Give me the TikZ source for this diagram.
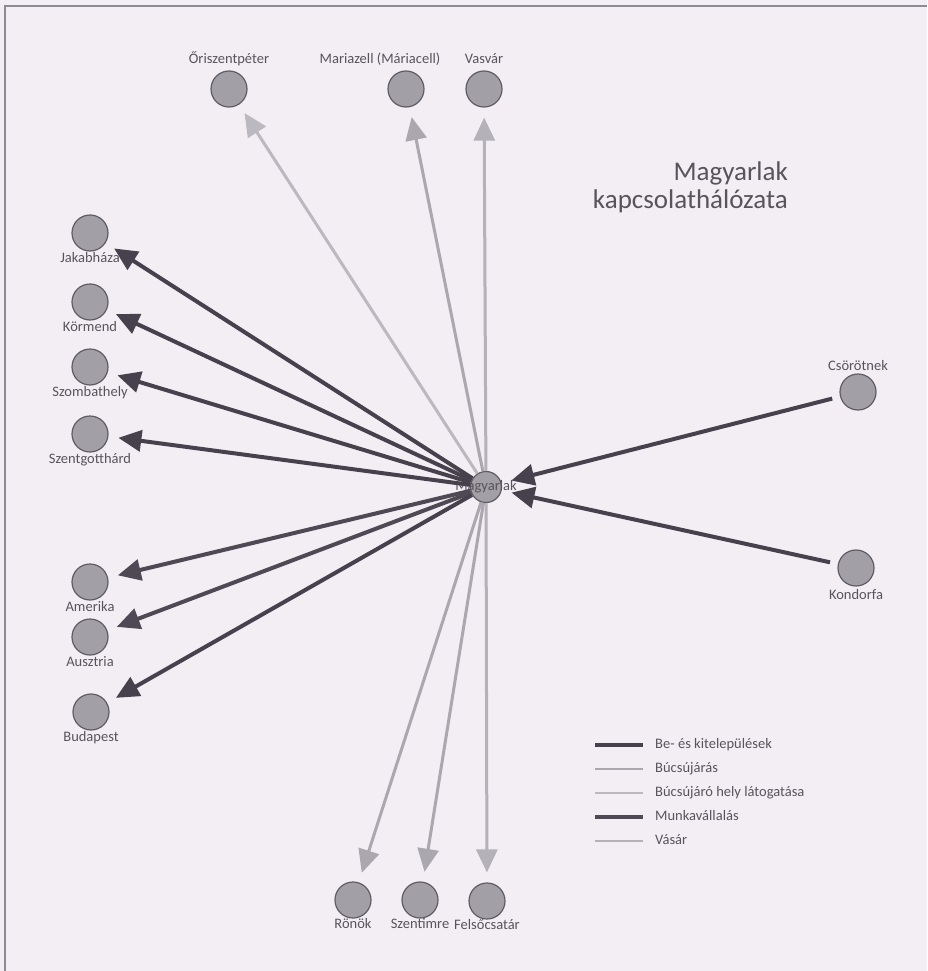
\documentclass[tikz,border=0pt]{standalone}
\usepackage[usenames,dvipsnames]{xcolor}
\usepackage{fontspec}
\setmainfont{Carlito}
\usetikzlibrary{arrows.meta}

\definecolor{paper}{HTML}{F3EDF4}
\definecolor{frame}{HTML}{8E8993}
\definecolor{dotfill}{HTML}{A29FA6}
\definecolor{dotline}{HTML}{5F5C63}
\definecolor{labelgray}{HTML}{57545C}
\definecolor{settledark}{HTML}{46414D}
\definecolor{workdark}{HTML}{4E4954}
\definecolor{pilgrimgray}{HTML}{AAA7AE}
\definecolor{shrinegray}{HTML}{BCB8BF}
\definecolor{fairgray}{HTML}{B4B1B8}

\begin{document}
\begin{tikzpicture}[x=1pt, y=-1pt]
    \tikzstyle{VertexStyle}=[shape = circle, fill = dotfill, draw = dotline, line width = 1.2pt, minimum size = 36pt, inner sep = 0pt]
    \tikzstyle{every label}=[font = \fontsize{14.5}{14.5}\selectfont, text = labelgray, inner sep = 0pt, text height = 10.5pt, text depth = 3pt]
    \tikzstyle{EdgeStyle}=[line width = 4pt, color = settledark, -{Triangle[length = 23pt, width = 21pt]}, shorten > = 10pt]
    \tikzstyle{PaleEdge}=[EdgeStyle, line width = 3pt]
    \tikzstyle{LegendText}=[anchor = west, font = \fontsize{14.5}{14.5}\selectfont, text = labelgray, inner sep = 0pt, text height = 10.5pt, text depth = 3pt]
    \tikzstyle{TitleText}=[anchor = base east, font = \fontsize{27}{27}\selectfont, text = labelgray, inner sep = 0pt]

    \useasboundingbox (0,0) rectangle (927,971);
    \fill[paper] (0,0) rectangle (927,971);
    \draw[frame, line width = 2pt] (5,971) -- (5,6) -- (927,6);

    \node[TitleText] (TitleTop) at (788,180) {Magyarlak};
    \node[TitleText] (TitleBottom) at (788,208) {kapcsolathálózata};

    \node[VertexStyle, label = {[label distance = 4pt]above:Őriszentpéter}] (Ori) at (229,89) {};
    \node[VertexStyle, label = {[label distance = 4pt, xshift = -26pt]above:Mariazell (Máriacell)}] (Mar) at (406,89) {};
    \node[VertexStyle, label = {[label distance = 4pt]above:Vasvár}] (Vas) at (484,89) {};
    \node[VertexStyle, label = below:Jakabháza] (Jak) at (90,233) {};
    \node[VertexStyle, label = below:Körmend] (Kor) at (90,302) {};
    \node[VertexStyle, label = below:Szombathely] (Szo) at (90,367) {};
    \node[VertexStyle, label = below:Szentgotthárd] (Szg) at (90,434) {};
    \node[VertexStyle, label = below:Amerika] (Ame) at (90,582) {};
    \node[VertexStyle, label = below:Ausztria] (Aus) at (90,637) {};
    \node[VertexStyle, label = below:Budapest] (Bud) at (91,712) {};
    \node[VertexStyle, label = above:Csörötnek] (Cso) at (858,392) {};
    \node[VertexStyle, label = {[label distance = 2pt]below:Kondorfa}] (Kon) at (856,568) {};
    \node[VertexStyle, label = {[label distance = -1pt]below:Rönök}] (Ron) at (353,900) {};
    \node[VertexStyle, label = {[label distance = -1pt]below:Szentimre}] (Sze) at (420,900) {};
    \node[VertexStyle, label = {[label distance = -1pt]below:Felsőcsatár}] (Fel) at (487,901) {};
    \node[VertexStyle, minimum size = 31pt, label = center:Magyarlak] (Mag) at (486,487) {};

    \draw[EdgeStyle] (Mag) -- (Jak);
    \draw[EdgeStyle] (Mag) -- (Kor);
    \draw[EdgeStyle] (Mag) -- (Szo);
    \draw[EdgeStyle] (Mag) -- (Szg);
    \draw[EdgeStyle, color = workdark] (Mag) -- (Ame);
    \draw[EdgeStyle, color = workdark] (Mag) -- (Aus);
    \draw[EdgeStyle] (Mag) -- (Bud);
    \draw[EdgeStyle, shorten < = 8pt] (Cso) -- (Mag);
    \draw[EdgeStyle, shorten < = 8pt] (Kon) -- (Mag);
    \draw[PaleEdge, color = shrinegray] (Mag) -- (Ori);
    \draw[PaleEdge, color = pilgrimgray] (Mag) -- (Mar);
    \draw[PaleEdge, color = fairgray] (Mag) -- (Vas);
    \draw[PaleEdge, color = pilgrimgray] (Mag) -- (Ron);
    \draw[PaleEdge, color = pilgrimgray] (Mag) -- (Sze);
    \draw[PaleEdge, color = fairgray] (Mag) -- (Fel);

    \node[LegendText] (LegSettle) at (655,745) {Be- és kitelepülések};
    \node[LegendText] (LegPilgrim) at (655,769) {Búcsújárás};
    \node[LegendText] (LegShrine) at (655,793) {Búcsújáró hely látogatása};
    \node[LegendText] (LegWork) at (655,817) {Munkavállalás};
    \node[LegendText] (LegFair) at (655,841) {Vásár};
    \draw[settledark, line width = 3.5pt] ([xshift = -60pt]LegSettle.west) -- ([xshift = -12pt]LegSettle.west);
    \draw[pilgrimgray, line width = 2.2pt] ([xshift = -60pt]LegPilgrim.west) -- ([xshift = -12pt]LegPilgrim.west);
    \draw[shrinegray, line width = 2.2pt] ([xshift = -60pt]LegShrine.west) -- ([xshift = -12pt]LegShrine.west);
    \draw[workdark, line width = 3.5pt] ([xshift = -60pt]LegWork.west) -- ([xshift = -12pt]LegWork.west);
    \draw[fairgray, line width = 2.2pt] ([xshift = -60pt]LegFair.west) -- ([xshift = -12pt]LegFair.west);
\end{tikzpicture}
\end{document}
